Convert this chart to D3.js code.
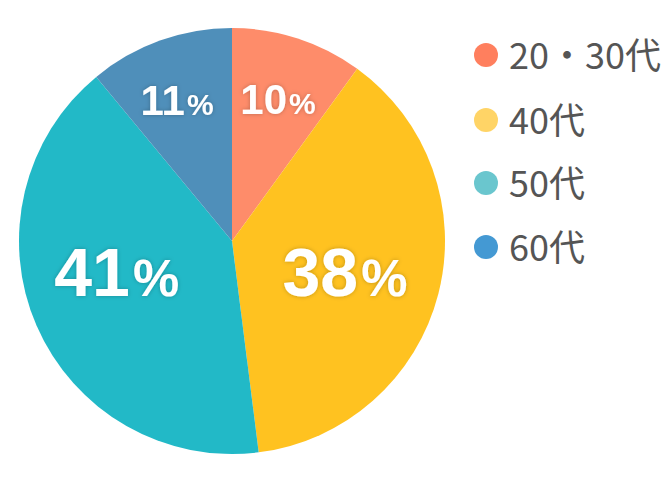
<!DOCTYPE html>
<html><head><meta charset="utf-8">
<script src="https://cdn.jsdelivr.net/npm/d3@7"></script>
<style>body{margin:0;background:#fff;}</style>
</head><body>
<script>
const categories = ["20・30代", "40代", "50代", "60代"];
const values = [10, 38, 41, 11];
const sliceColors = ["#FE8C6A", "#FFC220", "#22B9C7", "#4F8FBA"];
const legendColors = ["#FF7F5E", "#FFD466", "#6AC6CE", "#4499D3"];

const W = 664, H = 486;
const svg = d3.select("body").append("svg").attr("width", W).attr("height", H);
const defs = svg.append("defs");
const f = defs.append("filter").attr("id","sh").attr("x","-20%").attr("y","-20%").attr("width","140%").attr("height","140%");
f.append("feDropShadow").attr("dx",0).attr("dy",0).attr("stdDeviation",2).attr("flood-color","#000").attr("flood-opacity",0.25);

const cx = 232, cy = 241, R = 213;
const g = svg.append("g").attr("transform", `translate(${cx},${cy})`);
const pie = d3.pie().sort(null).value(d => d);
const arcs = pie(values);
const arc = d3.arc().innerRadius(0).outerRadius(R);
g.selectAll("path").data(arcs).join("path")
  .attr("d", arc).attr("fill", (d,i) => sliceColors[i]);

// label configs: radius fraction, angle shift (deg) & sizes
const big = [false, true, true, false];
const labelR = [0.70, 0.55, 0.56, 0.71];
const labelShift = [0, 1, 8.5, -1.5];
const lab = g.selectAll("text.lab").data(arcs).join("text")
  .attr("class","lab")
  .attr("filter","url(#sh)")
  .attr("text-anchor","middle")
  .attr("font-family","'Liberation Sans', Arial, sans-serif")
  .attr("font-weight","bold")
  .attr("fill","#fff")
  .attr("transform", (d,i) => {
    const a = (d.startAngle + d.endAngle)/2 + labelShift[i]*Math.PI/180;
    const r = R*labelR[i];
    return `translate(${Math.sin(a)*r},${-Math.cos(a)*r})`;
  });
lab.append("tspan")
  .attr("font-size", (d,i) => big[i] ? 68 : 42)
  .text(d => d.data);
lab.append("tspan")
  .attr("font-size", (d,i) => big[i] ? 52 : 30)
  .attr("dx", (d,i) => big[i] ? 3 : 2)
  .text("%");
lab.attr("dy", (d,i) => big[i] ? 24 : 15);

// legend
const lg = svg.append("g");
const ly = [55, 120, 183, 247];
categories.forEach((c,i) => {
  lg.append("circle").attr("cx",486).attr("cy",ly[i]).attr("r",12).attr("fill",legendColors[i]);
  lg.append("text").attr("x",509).attr("y",ly[i]+14)
    .attr("font-family","'Noto Sans CJK JP', 'Noto Sans', sans-serif")
    .attr("font-size",36).attr("fill","#555")
    .text(c);
});
</script>
</body></html>
